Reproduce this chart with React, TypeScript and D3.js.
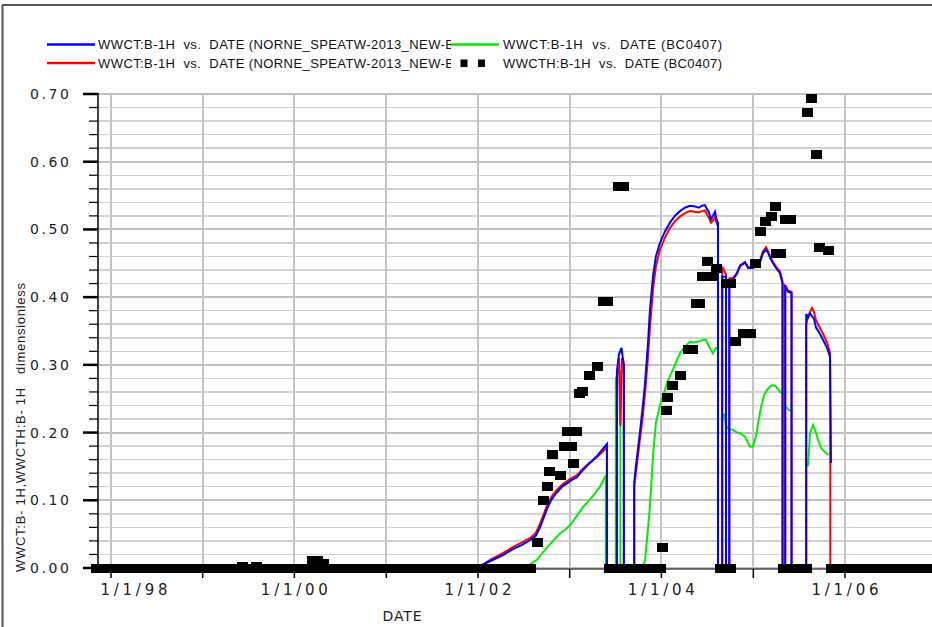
import React from "react";
import * as d3 from "d3";

// ---------- DATA (dates as decimal years) ----------
const blueYears = [
  1997.847, 2002.0, 2002.131, 2002.272, 2002.381, 2002.48, 2002.567, 2002.632, 2002.676, 2002.719,
  2002.752, 2002.796, 2002.85, 2002.916, 2002.97, 2003.025, 2003.079, 2003.134, 2003.188, 2003.243,
  2003.308, 2003.362, 2003.406, 2003.406, 2003.515, 2003.515, 2003.537, 2003.564, 2003.58, 2003.591,
  2003.591, 2003.704, 2003.704, 2003.722, 2003.744, 2003.766, 2003.798, 2003.82, 2003.853, 2003.875,
  2003.908, 2003.94, 2003.984, 2004.039, 2004.093, 2004.147, 2004.202, 2004.256, 2004.311, 2004.365,
  2004.409, 2004.441, 2004.474, 2004.496, 2004.518, 2004.54, 2004.561, 2004.583, 2004.599, 2004.616,
  2004.616, 2004.662, 2004.662, 2004.703, 2004.703, 2004.739, 2004.739, 2004.779, 2004.823, 2004.856,
  2004.91, 2004.943, 2004.997, 2005.041, 2005.074, 2005.106, 2005.139, 2005.161, 2005.183, 2005.215,
  2005.248, 2005.292, 2005.319, 2005.319, 2005.348, 2005.348, 2005.379, 2005.417, 2005.417, 2005.577,
  2005.577, 2005.597, 2005.619, 2005.64, 2005.662, 2005.684, 2005.717, 2005.76, 2005.804, 2005.837,
  2005.847,
];
const blueWwct = [
  0, 0.002, 0.01, 0.019, 0.028, 0.034, 0.041, 0.048, 0.06, 0.075,
  0.087, 0.1, 0.11, 0.12, 0.125, 0.13, 0.134, 0.143, 0.151, 0.158,
  0.167, 0.176, 0.183, 0, 0, 0.29, 0.315, 0.325, 0.31, 0.3,
  0, 0, 0.127, 0.15, 0.175, 0.2, 0.24, 0.27, 0.33, 0.38,
  0.43, 0.46, 0.48, 0.497, 0.51, 0.52, 0.527, 0.532, 0.535, 0.534,
  0.532, 0.535, 0.536, 0.53, 0.525, 0.515, 0.52, 0.526, 0.515, 0.51,
  0, 0, 0.43, 0.43, 0, 0, 0.425, 0.426, 0.435, 0.446,
  0.451, 0.443, 0.443, 0.447, 0.452, 0.465, 0.47, 0.466, 0.458, 0.45,
  0.443, 0.435, 0.42, 0, 0, 0.415, 0.408, 0.406, 0, 0,
  0.375, 0.37, 0.376, 0.372, 0.368, 0.355, 0.348, 0.337, 0.325, 0.312,
  0.155,
];

const redYears = [
  1997.847, 2002.0, 2002.131, 2002.272, 2002.381, 2002.48, 2002.567, 2002.632, 2002.676, 2002.719,
  2002.752, 2002.796, 2002.85, 2002.916, 2002.97, 2003.025, 2003.079, 2003.134, 2003.188, 2003.243,
  2003.308, 2003.362, 2003.406, 2003.406, 2003.515, 2003.515, 2003.537, 2003.553, 2003.57, 2003.591,
  2003.591, 2003.704, 2003.704, 2003.722, 2003.744, 2003.766, 2003.798, 2003.82, 2003.853, 2003.875,
  2003.908, 2003.94, 2003.984, 2004.039, 2004.093, 2004.147, 2004.202, 2004.256, 2004.311, 2004.365,
  2004.409, 2004.441, 2004.474, 2004.496, 2004.518, 2004.54, 2004.561, 2004.583, 2004.599, 2004.616,
  2004.616, 2004.662, 2004.662, 2004.703, 2004.703, 2004.739, 2004.739, 2004.779, 2004.823, 2004.856,
  2004.91, 2004.943, 2004.997, 2005.041, 2005.074, 2005.106, 2005.139, 2005.161, 2005.183, 2005.215,
  2005.248, 2005.292, 2005.319, 2005.319, 2005.348, 2005.348, 2005.379, 2005.417, 2005.417, 2005.577,
  2005.577, 2005.597, 2005.619, 2005.64, 2005.662, 2005.684, 2005.717, 2005.76, 2005.804, 2005.837,
  2005.84, 2005.84, 2007.2,
];
const redWwct = [
  0, 0, 0.012, 0.022, 0.031, 0.038, 0.044, 0.052, 0.065, 0.08,
  0.092, 0.104, 0.114, 0.123, 0.128, 0.133, 0.137, 0.145, 0.152, 0.158,
  0.165, 0.172, 0.178, 0, 0, 0.285, 0.31, 0.21, 0.31, 0.3,
  0, 0, 0.12, 0.14, 0.165, 0.19, 0.225, 0.255, 0.31, 0.355,
  0.41, 0.445, 0.47, 0.488, 0.502, 0.512, 0.519, 0.524, 0.527, 0.526,
  0.525, 0.527, 0.528, 0.522, 0.517, 0.51, 0.513, 0.518, 0.51, 0.505,
  0, 0, 0.445, 0.433, 0, 0, 0.428, 0.428, 0.436, 0.447,
  0.452, 0.444, 0.444, 0.449, 0.455, 0.468, 0.474, 0.468, 0.46, 0.452,
  0.445, 0.438, 0.423, 0, 0, 0.418, 0.41, 0.408, 0, 0,
  0.36, 0.372, 0.378, 0.384, 0.378, 0.366, 0.357, 0.346, 0.333, 0.318,
  0.155, 0, 0,
];

const greenYears = [
  1997.847, 2002.381, 2002.458, 2002.567, 2002.643, 2002.752, 2002.839, 2002.894, 2002.948, 2003.003,
  2003.079, 2003.144, 2003.221, 2003.275, 2003.33, 2003.395, 2003.395, 2003.504, 2003.504, 2003.537,
  2003.553, 2003.553, 2003.787, 2003.82, 2003.842, 2003.875, 2003.908, 2003.94, 2003.984, 2004.017,
  2004.061, 2004.093, 2004.147, 2004.202, 2004.256, 2004.311, 2004.365, 2004.42, 2004.452, 2004.485,
  2004.507, 2004.529, 2004.561, 2004.594, 2004.605, 2004.64, 2004.681, 2004.703, 2004.736, 2004.779,
  2004.823, 2004.856, 2004.91, 2004.943, 2004.965, 2004.997, 2005.03, 2005.052, 2005.085, 2005.117,
  2005.15, 2005.183, 2005.215, 2005.248, 2005.292, 2005.319, 2005.335, 2005.357, 2005.39, 2005.417,
  2005.5, 2005.597, 2005.619, 2005.651, 2005.684, 2005.706, 2005.739, 2005.76, 2005.793, 2005.821,
];
const greenWwct: (number | null)[] = [
  0, 0, 0.002, 0.005, 0.012, 0.03, 0.043, 0.051, 0.056, 0.063,
  0.077, 0.09, 0.101, 0.11, 0.12, 0.137, 0, 0, 0.28, 0.29,
  0.29, 0, 0, 0.01, 0.04, 0.09, 0.164, 0.214, 0.24, 0.253,
  0.273, 0.283, 0.3, 0.317, 0.327, 0.334, 0.333, 0.335, 0.337, 0.337,
  0.33, 0.325, 0.317, 0.325, 0.325, null, 0.228, 0.21, 0.205, 0.204,
  0.2, 0.199, 0.194, 0.185, 0.179, 0.18, 0.195, 0.214, 0.238, 0.255,
  0.263, 0.268, 0.27, 0.268, 0.26, 0.258, null, 0.238, 0.233, 0.233,
  null, 0.15, 0.199, 0.211, 0.2, 0.189, 0.178, 0.174, 0.17, 0.167,
];

// observed WWCTH (non-zero and near-zero samples)
const obsYears = [
  1999.433, 1999.586, 2000.196, 2000.25, 2000.322,
  2002.651, 2002.712, 2002.76, 2002.785, 2002.815, 2002.902, 2002.938, 2002.981, 2003.025, 2003.046,
  2003.079, 2003.112, 2003.144, 2003.221, 2003.305, 2003.373, 2003.417, 2003.537, 2003.591, 2004.016,
  2004.056, 2004.071, 2004.125, 2004.209, 2004.3, 2004.343, 2004.384, 2004.42, 2004.452, 2004.507,
  2004.561, 2004.601, 2004.703, 2004.747, 2004.801, 2004.888, 2004.965, 2005.019, 2005.074, 2005.128,
  2005.201, 2005.237, 2005.248, 2005.292, 2005.346, 2005.401, 2005.586, 2005.637, 2005.691, 2005.727,
  2005.815,
];
const obsWwcth = [
  0.002, 0.002, 0.011, 0.011, 0.006,
  0.037, 0.1, 0.12, 0.143, 0.167, 0.136, 0.179, 0.201, 0.179, 0.155,
  0.201, 0.257, 0.26, 0.285, 0.297, 0.394, 0.394, 0.563, 0.563, 0.031,
  0.233, 0.252, 0.27, 0.285, 0.322, 0.322, 0.39, 0.39, 0.431, 0.453,
  0.431, 0.442, 0.42, 0.42, 0.334, 0.347, 0.347, 0.449, 0.497, 0.511,
  0.519, 0.534, 0.465, 0.465, 0.514, 0.514, 0.672, 0.694, 0.61, 0.474,
  0.469,
];
// periods of consecutive zero WWCTH observations
const obsZeroStart = [1997.847, 2003.433, 2004.643, 2005.33, 2005.853];
const obsZeroEnd = [2002.578, 2003.989, 2004.752, 2005.58, 2007.2];

const yMajorTicks = [0, 0.1, 0.2, 0.3, 0.4, 0.5, 0.6, 0.7];
const yMajorLabels = ["0.00", "0.10", "0.20", "0.30", "0.40", "0.50", "0.60", "0.70"];
const yMinorTicks = d3.range(0, 0.7001, 0.02);
const xTickYears = [1998, 1999, 2000, 2001, 2002, 2003, 2004, 2005, 2006, 2007];
const xLabelYears = [1998, 2000, 2002, 2004, 2006];
const xLabels = ["1/1/98", "1/1/00", "1/1/02", "1/1/04", "1/1/06"];

const legendTexts = [
  "WWCT:B-1H  vs.  DATE (NORNE_SPEATW-2013_NEW-B",
  "WWCT:B-1H  vs.  DATE (NORNE_SPEATW-2013_NEW-B",
  "WWCT:B-1H  vs.  DATE (BC0407)",
  "WWCTH:B-1H  vs.  DATE (BC0407)",
];

// ---------- helpers ----------
function dy(v: number): Date {
  const yr = Math.floor(v);
  const s = Date.UTC(yr, 0, 1);
  const e = Date.UTC(yr + 1, 0, 1);
  return new Date(s + (v - yr) * (e - s));
}

const W = 932;
const H = 627;
const PL = 98;
const PT = 94;
const PB = 568;

const x = d3.scaleTime().domain([dy(1998), dy(2006)]).range([111, 845]);
const y = d3.scaleLinear().domain([0, 0.7]).range([PB, PT]);

type Pt = [number, number | null];
const lineGen = d3
  .line<Pt>()
  .defined((d) => d[1] !== null)
  .x((d) => x(dy(d[0])))
  .y((d) => y(d[1] as number));

const zip = (a: number[], b: (number | null)[]): Pt[] => a.map((v, i) => [v, b[i]]);

const FONT = "'Liberation Sans', Arial, Helvetica, sans-serif";
const TICKFONT = "'DejaVu Sans', 'Liberation Sans', sans-serif";
const SQW = 11;
const SQH = 9;

export default function App() {
  const isMajor = (v: number) => Math.abs(v * 10 - Math.round(v * 10)) < 1e-6;
  const pre = { whiteSpace: "pre" as const };
  return (
    <svg
      width={W}
      height={H}
      style={{ position: "absolute", left: 0, top: 0, background: "#fff" }}
      fontFamily={FONT}
    >
      <defs>
        <clipPath id="legclip">
          <rect x={0} y={0} width={451} height={80} />
        </clipPath>
      </defs>
      <rect x={0} y={0} width={W} height={H} fill="#fff" />
      {/* frame */}
      <line x1={2} y1={5} x2={W} y2={5} stroke="#555" strokeWidth={2} />
      <line x1={2.5} y1={5} x2={2.5} y2={H} stroke="#555" strokeWidth={2} />

      {/* legend */}
      <g fontSize={13} fill="#111">
        <line x1={47} y1={44.5} x2={95} y2={44.5} stroke="#0000ff" strokeWidth={2.5} />
        <line x1={47} y1={63} x2={95} y2={63} stroke="#ff0000" strokeWidth={2.5} />
        <g clipPath="url(#legclip)">
          <text x={98} y={49} textLength={356} lengthAdjust="spacing" xmlSpace="preserve" style={pre}>{legendTexts[0]}</text>
          <text x={98} y={67.5} textLength={356} lengthAdjust="spacing" xmlSpace="preserve" style={pre}>{legendTexts[1]}</text>
        </g>
        <line x1={451} y1={44.5} x2={499} y2={44.5} stroke="#00ee00" strokeWidth={2.5} />
        <rect x={460.5} y={59.5} width={7} height={7.5} fill="#000" />
        <rect x={478} y={59.5} width={7} height={7.5} fill="#000" />
        <text x={503} y={49} textLength={219} lengthAdjust="spacing" xmlSpace="preserve" style={pre}>{legendTexts[2]}</text>
        <text x={503} y={67.5} textLength={219} lengthAdjust="spacing" xmlSpace="preserve" style={pre}>{legendTexts[3]}</text>
      </g>

      {/* grid */}
      <g shapeRendering="crispEdges">
        {yMinorTicks.map((v, i) => (
          <line
            key={"hg" + i}
            x1={PL}
            x2={W}
            y1={y(v)}
            y2={y(v)}
            stroke={isMajor(v) ? "#c0c0c0" : "#d2d2d2"}
            strokeWidth={isMajor(v) ? 2 : 1.5}
          />
        ))}
        {xTickYears.map((t) => (
          <line key={"vg" + t} x1={x(dy(t))} x2={x(dy(t))} y1={PT} y2={PB} stroke="#c4c4c4" strokeWidth={2} />
        ))}
      </g>

      {/* series */}
      <path d={lineGen(zip(greenYears, greenWwct)) || ""} fill="none" stroke="#00ee00" strokeWidth={2} />
      <path d={lineGen(zip(redYears, redWwct)) || ""} fill="none" stroke="#ff0000" strokeWidth={2} />
      <path d={lineGen(zip(blueYears, blueWwct)) || ""} fill="none" stroke="#0000ff" strokeWidth={2} />

      {/* x axis line */}
      <line x1={PL} x2={W} y1={569} y2={569} stroke="#000" strokeWidth={1} />

      {/* observations */}
      <g fill="#000" shapeRendering="crispEdges">
        {obsZeroStart.map((s, i) => (
          <rect
            key={"z" + i}
            x={x(dy(s)) - SQW / 2}
            y={y(0) - SQH / 2}
            width={x(dy(obsZeroEnd[i])) - x(dy(s)) + SQW}
            height={SQH}
          />
        ))}
        {obsYears.map((t, i) => (
          <rect key={"o" + i} x={x(dy(t)) - SQW / 2} y={y(obsWwcth[i]) - SQH / 2} width={SQW} height={SQH} />
        ))}
      </g>

      {/* y axis */}
      <line x1={PL} x2={PL} y1={PT - 1} y2={569} stroke="#000" strokeWidth={1.5} />
      {yMinorTicks.map((v, i) => (
        <line
          key={"yt" + i}
          x1={isMajor(v) ? 83 : 89}
          x2={PL}
          y1={y(v)}
          y2={y(v)}
          stroke="#000"
          strokeWidth={isMajor(v) ? 2.5 : 1.2}
        />
      ))}
      {yMajorTicks.map((v, i) => (
        <text
          key={"yl" + i}
          x={69}
          y={y(v) + 5}
          textAnchor="end"
          fontFamily={TICKFONT}
          fontSize={14}
          textLength={39}
          lengthAdjust="spacing"
          fill="#222"
        >
          {yMajorLabels[i]}
        </text>
      ))}

      {/* x ticks */}
      {xTickYears.map((t) => (
        <line key={"xt" + t} x1={x(dy(t))} x2={x(dy(t))} y1={569} y2={578} stroke="#000" strokeWidth={1.5} />
      ))}
      {xLabelYears.map((t, i) => (
        <text
          key={"xl" + t}
          x={Math.max(x(dy(t)), PL + 36)}
          y={595}
          textAnchor="middle"
          fontFamily={TICKFONT}
          fontSize={15}
          textLength={67}
          lengthAdjust="spacing"
          fill="#222"
        >
          {xLabels[i]}
        </text>
      ))}
      <text x={402} y={621} textAnchor="middle" fontFamily={TICKFONT} fontSize={14} textLength={39} lengthAdjust="spacing" fill="#222">
        DATE
      </text>

      {/* y title */}
      <text
        transform="translate(25,572) rotate(-90)"
        fontSize={13}
        textLength={289}
        lengthAdjust="spacing"
        fill="#222"
        xmlSpace="preserve"
        style={pre}
      >
        {"WWCT:B- 1H,WWCTH:B- 1H   dimensionless"}
      </text>
    </svg>
  );
}
